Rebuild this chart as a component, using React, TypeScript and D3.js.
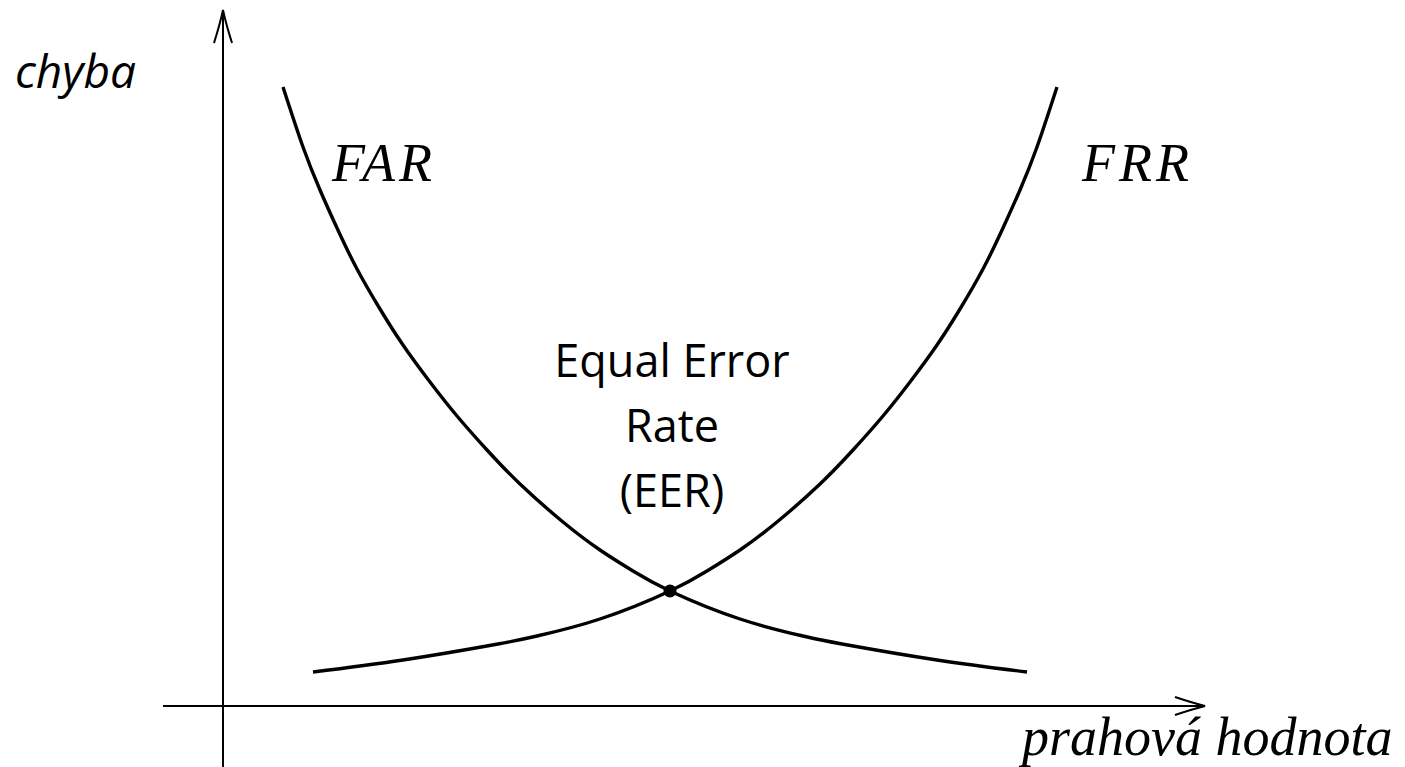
import React from "react";
import * as d3 from "d3";

// Threshold (x) and error (y) values
const farX = [60, 80, 97, 114, 134, 157, 180, 207, 234, 264, 297, 340, 377, 410, 447, 517, 580, 619, 714, 804];
const farY = [619, 559, 516, 478, 437, 397, 361, 324, 290, 256, 222, 184, 156, 135, 115, 87, 70, 62, 46, 34];

const frrX = [90, 180, 275, 314, 377, 447, 484, 517, 554, 597, 630, 660, 687, 714, 737, 760, 780, 797, 814, 834];
const frrY = [34, 46, 62, 70, 87, 115, 135, 156, 184, 222, 256, 290, 324, 361, 397, 437, 478, 516, 559, 619];

const eerPoint = { x: 447, y: 115 };

const yLabel = "chyba";
const xLabel = "prahová hodnota";
const farLabel = "FAR";
const frrLabel = "FRR";
const eerLines = ["Equal Error", "Rate", "(EER)"];

const W = 1405;
const H = 767;

export default function App() {
  const x = d3.scaleLinear().domain([0, 982]).range([223, 1205]);
  const y = d3.scaleLinear().domain([0, 696]).range([706, 10]);

  const line = d3
    .line<[number, number]>()
    .x((d) => x(d[0]))
    .y((d) => y(d[1]))
    .curve(d3.curveNatural);

  const farPts: [number, number][] = farX.map((v, i) => [v, farY[i]]);
  const frrPts: [number, number][] = frrX.map((v, i) => [v, frrY[i]]);

  const x0 = x(0);
  const y0 = y(0);
  const yTop = y(696);
  const xEnd = x(982);

  const serif = "'Liberation Serif', 'Times New Roman', serif";
  const sans = "'Open Sans', 'Noto Sans', sans-serif";

  return (
    <svg
      width={W}
      height={H}
      style={{ position: "absolute", left: 0, top: 0, background: "#fff" }}
    >
      <rect x={0} y={0} width={W} height={H} fill="#fff" />
      {/* axes */}
      <line x1={x0} y1={H} x2={x0} y2={yTop + 1} stroke="#000" strokeWidth={2} />
      <line x1={x(-60)} y1={y0} x2={xEnd - 1} y2={y0} stroke="#000" strokeWidth={2} />
      {/* arrow heads */}
      <path
        d={`M${x0 - 9},${yTop + 33} Q${x0 - 3},${yTop + 14} ${x0},${yTop} Q${x0 + 3},${yTop + 14} ${x0 + 9},${yTop + 33}`}
        fill="none"
        stroke="#000"
        strokeWidth={2}
      />
      <path
        d={`M${xEnd - 30},${y0 - 9} Q${xEnd - 12},${y0 - 3} ${xEnd},${y0} Q${xEnd - 12},${y0 + 3} ${xEnd - 30},${y0 + 9}`}
        fill="none"
        stroke="#000"
        strokeWidth={2}
      />
      {/* curves */}
      <path d={line(farPts) || ""} fill="none" stroke="#000" strokeWidth={3.4} />
      <path d={line(frrPts) || ""} fill="none" stroke="#000" strokeWidth={3.4} />
      <circle cx={x(eerPoint.x)} cy={y(eerPoint.y)} r={6.5} fill="#000" />

      {/* labels */}
      <text x={15} y={88} fontFamily={sans} fontStyle="italic" fontSize={46} fill="#000">
        {yLabel}
      </text>
      <text x={332} y={181} fontFamily={serif} fontStyle="italic" fontSize={54} letterSpacing={4} fill="#000">
        {farLabel}
      </text>
      <text x={1082} y={181} fontFamily={serif} fontStyle="italic" fontSize={54} letterSpacing={4} fill="#000">
        {frrLabel}
      </text>
      <text x={1022} y={755} fontFamily={serif} fontStyle="italic" fontSize={54} fill="#000">
        {xLabel}
      </text>
      {eerLines.map((t, i) => (
        <text
          key={t}
          x={672}
          y={377 + i * 65}
          textAnchor="middle"
          fontFamily={sans}
          fontSize={45}
          fill="#000"
        >
          {t}
        </text>
      ))}
    </svg>
  );
}
